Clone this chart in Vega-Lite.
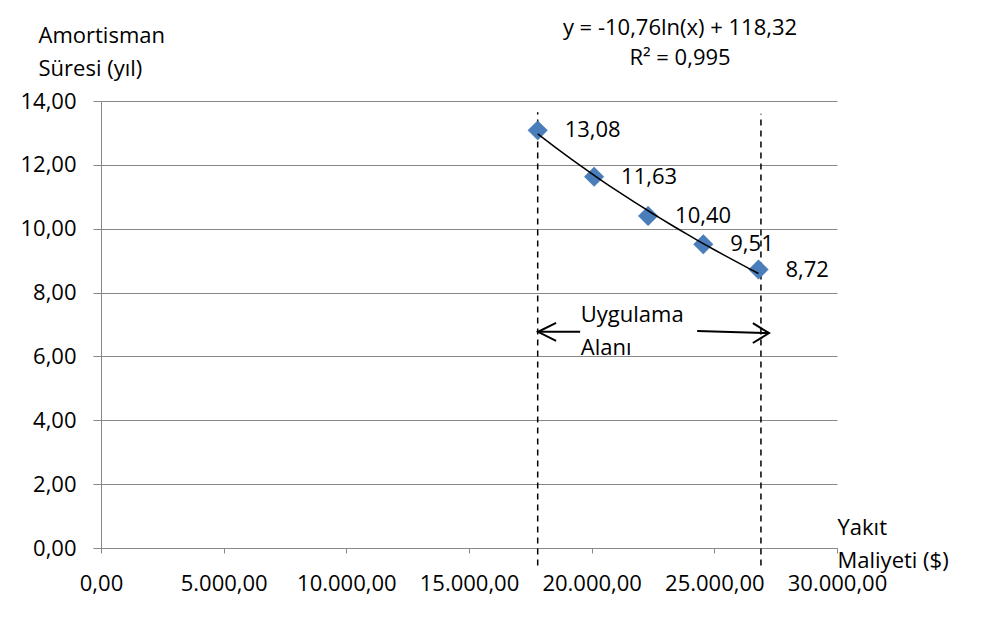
{
  "$schema": "https://vega.github.io/schema/vega-lite/v6.json",
  "autosize": "none",
  "width": 736,
  "height": 447,
  "padding": {"left": 101, "top": 101, "right": 163, "bottom": 70},
  "background": "white",
  "config": {
    "locale": {"number": {"decimal": ",", "thousands": ".", "grouping": [3], "currency": ["", "$"]}},
    "font": "Open Sans",
    "view": {"stroke": null},
    "axis": {"labelFont": "Open Sans", "titleFont": "Open Sans", "labelFontSize": 22, "titleFontSize": 22, "labelColor": "#000", "titleColor": "#000", "titleFontWeight": "normal", "domainColor": "#888", "tickColor": "#888", "gridColor": "#888", "domainWidth": 1, "tickWidth": 1, "labelOverlap": false, "labelFlush": false}
  },
  "title": {
    "text": ["y = -10,76ln(x) + 118,32", "R² = 0,995"],
    "anchor": "middle",
    "dx": 211,
    "dy": 46,
    "fontSize": 22,
    "font": "Open Sans",
    "fontWeight": "normal",
    "lineHeight": 30,
    "offset": 0,
    "color": "#000"
  },
  "datasets": {
    "pts": [
      {"x": 17800, "y": 13.08},
      {"x": 20100, "y": 11.63},
      {"x": 22300, "y": 10.40},
      {"x": 24550, "y": 9.51},
      {"x": 26800, "y": 8.72}
    ],
    "dash": [
      {"x": 17800, "ya": -0.55, "yb": 13.65},
      {"x": 26900, "ya": -0.55, "yb": 13.6}
    ],
    "arrows": [
      {"g": "ls", "o": 0, "x": 19530, "y": 6.77},
      {"g": "ls", "o": 1, "x": 17815, "y": 6.77},
      {"g": "lh", "o": 0, "x": 18550, "y": 7.05},
      {"g": "lh", "o": 1, "x": 17815, "y": 6.77},
      {"g": "lh", "o": 2, "x": 18550, "y": 6.49},
      {"g": "rs", "o": 0, "x": 24300, "y": 6.80},
      {"g": "rs", "o": 1, "x": 27230, "y": 6.73},
      {"g": "rh", "o": 0, "x": 26570, "y": 7.04},
      {"g": "rh", "o": 1, "x": 27230, "y": 6.73},
      {"g": "rh", "o": 2, "x": 26570, "y": 6.42}
    ],
    "notes": [
      {"x": 19555, "y": 7.09, "t": "Uygulama"},
      {"x": 19555, "y": 6.05, "t": "Alanı"}
    ]
  },
  "layer": [
    {
      "data": {"name": "pts"},
      "mark": {"type": "point", "opacity": 0},
      "encoding": {
        "x": {"field": "x", "type": "quantitative", "scale": {"domain": [0, 30000], "nice": false, "zero": false},
          "axis": {"values": [0, 5000, 10000, 15000, 20000, 25000, 30000], "format": ",.2f", "grid": false, "tickSize": 5, "labelPadding": 20, "labelBaseline": "top",
            "title": ["Yakıt", "Maliyeti ($)"], "titleAlign": "left", "titleBaseline": "alphabetic", "titleAnchor": "start", "titleX": 736, "titleY": -14, "titleLineHeight": 33}},
        "y": {"field": "y", "type": "quantitative", "scale": {"domain": [0, 14], "nice": false, "zero": false},
          "axis": {"values": [0, 2, 4, 6, 8, 10, 12, 14], "format": ",.2f", "grid": true, "tickSize": 8, "labelPadding": 17,
            "title": ["Amortisman", "Süresi (yıl)"], "titleAngle": 0, "titleAlign": "left", "titleBaseline": "alphabetic", "titleX": -63, "titleY": -59, "titleLineHeight": 33}}
      }
    },
    {
      "data": {"name": "dash"},
      "mark": {"type": "rule", "color": "#000", "strokeWidth": 1.5, "strokeDash": [6, 5]},
      "encoding": {
        "x": {"field": "x", "type": "quantitative"},
        "y": {"field": "ya", "type": "quantitative"},
        "y2": {"field": "yb"}
      }
    },
    {
      "data": {"name": "pts"},
      "mark": {"type": "point", "shape": "diamond", "filled": true, "size": 380, "color": "#4A7EBB", "opacity": 1, "stroke": "#4372AA", "strokeWidth": 0.5},
      "encoding": {
        "x": {"field": "x", "type": "quantitative"},
        "y": {"field": "y", "type": "quantitative"}
      }
    },
    {
      "data": {"name": "pts"},
      "transform": [{"regression": "y", "on": "x", "method": "log"}],
      "mark": {"type": "line", "color": "#000", "strokeWidth": 1.5},
      "encoding": {
        "x": {"field": "x", "type": "quantitative"},
        "y": {"field": "y", "type": "quantitative"}
      }
    },
    {
      "data": {"name": "pts"},
      "mark": {"type": "text", "align": "left", "baseline": "middle", "dx": 27, "fontSize": 22, "font": "Open Sans", "color": "#000"},
      "encoding": {
        "x": {"field": "x", "type": "quantitative"},
        "y": {"field": "y", "type": "quantitative"},
        "text": {"field": "y", "type": "quantitative", "format": ",.2f"}
      }
    },
    {
      "data": {"name": "arrows"},
      "mark": {"type": "line", "color": "#000", "strokeWidth": 2},
      "encoding": {
        "x": {"field": "x", "type": "quantitative"},
        "y": {"field": "y", "type": "quantitative"},
        "detail": {"field": "g"},
        "order": {"field": "o"}
      }
    },
    {
      "data": {"name": "notes"},
      "mark": {"type": "text", "align": "left", "baseline": "alphabetic", "fontSize": 22, "font": "Open Sans", "color": "#000"},
      "encoding": {
        "x": {"field": "x", "type": "quantitative"},
        "y": {"field": "y", "type": "quantitative"},
        "text": {"field": "t"}
      }
    }
  ]
}
